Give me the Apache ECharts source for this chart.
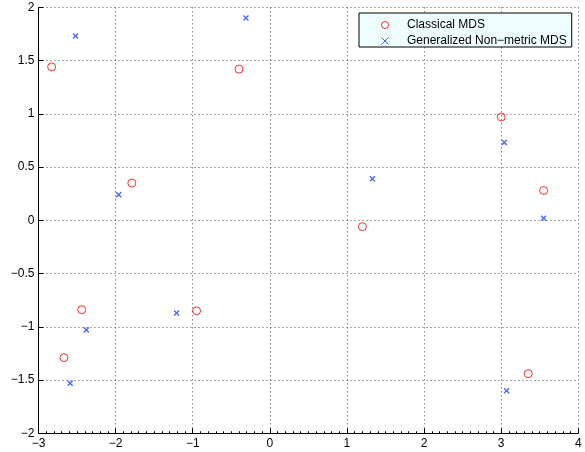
<!DOCTYPE html>
<html>
<head>
<meta charset="utf-8">
<script src="https://cdn.jsdelivr.net/npm/echarts@6/dist/echarts.min.js"></script>
<style>html,body{margin:0;padding:0;background:#fff}#c{width:585px;height:452px}</style>
</head>
<body>
<div id="c"></div>
<script>
var seriesNames = ['Classical MDS', 'Generalized Non\u2212metric MDS'];
var classicalX = [-2.83, -0.40, -1.79, 3.00, 3.55, 1.20, 3.35, -2.44, -0.95, -2.67];
var classicalY = [1.44, 1.42, 0.35, 0.97, 0.28, -0.06, -1.44, -0.84, -0.85, -1.29];
var nonmetricX = [-2.52, -0.31, -1.96, 1.33, 3.04, 3.55, 3.07, -2.38, -1.21, -2.59];
var nonmetricY = [1.73, 1.90, 0.24, 0.39, 0.73, 0.02, -1.60, -1.03, -0.87, -1.53];
var xTicks = [-3, -2, -1, 0, 1, 2, 3, 4];
var yTicks = [-2, -1.5, -1, -0.5, 0, 0.5, 1, 1.5, 2];

function pairs(xs, ys) { return xs.map(function (x, i) { return [x, ys[i]]; }); }
function fmt(v) { return String(v).replace('-', '\u2212'); }

var font = 'Liberation Sans, Arial, Helvetica, sans-serif';
var chart = echarts.init(document.getElementById('c'), null, { renderer: 'canvas' });
var gridLine = { show: true, lineStyle: { color: '#555', type: [1, 3], width: 1 } };
chart.setOption({
  animation: false,
  backgroundColor: '#fff',
  grid: { left: 38.5, right: 6.7, top: 7.3, bottom: 18.7, containLabel: false },
  xAxis: {
    type: 'value', min: xTicks[0], max: xTicks[xTicks.length - 1], interval: 1,
    axisLine: { show: true, onZero: false, lineStyle: { color: '#000', width: 1 } },
    axisTick: { show: true, inside: true, length: 5, lineStyle: { color: '#000' } },
    minorTick: { show: true, splitNumber: 10, length: 2, lineStyle: { color: '#000' } },
    axisLabel: { formatter: fmt, color: '#000', fontSize: 12, fontFamily: font, margin: 4 },
    splitLine: gridLine
  },
  yAxis: {
    type: 'value', min: yTicks[0], max: yTicks[yTicks.length - 1], interval: 0.5,
    axisLine: { show: true, onZero: false, lineStyle: { color: '#000', width: 1 } },
    axisTick: { show: true, inside: true, length: 5, lineStyle: { color: '#000' } },
    axisLabel: { formatter: fmt, color: '#000', fontSize: 12, fontFamily: font, margin: 4 },
    splitLine: gridLine
  },
  legend: {
    orient: 'vertical', left: 359, top: 13,
    padding: [6, 5, 0, 22],
    itemGap: 4, itemWidth: 34, itemHeight: 7,
    backgroundColor: '#eefefe', borderColor: '#000', borderWidth: 1, borderRadius: 0,
    itemStyle: { borderWidth: 1 },
    textStyle: { color: '#000', fontSize: 12, fontFamily: font, lineHeight: 12 },
    data: seriesNames
  },
  series: [
    {
      name: seriesNames[0], type: 'scatter', symbol: 'circle', symbolSize: 8,
      itemStyle: { color: 'rgba(0,0,0,0)', borderColor: '#ff0000', borderWidth: 1 },
      data: pairs(classicalX, classicalY)
    },
    {
      name: seriesNames[1], type: 'scatter', symbol: 'path://M0,0L10,10M10,0L0,10', symbolSize: 5,
      itemStyle: { color: 'rgba(0,0,0,0)', borderColor: '#1a3cff', borderWidth: 1.3 },
      data: pairs(nonmetricX, nonmetricY)
    }
  ]
});
</script>
</body>
</html>
